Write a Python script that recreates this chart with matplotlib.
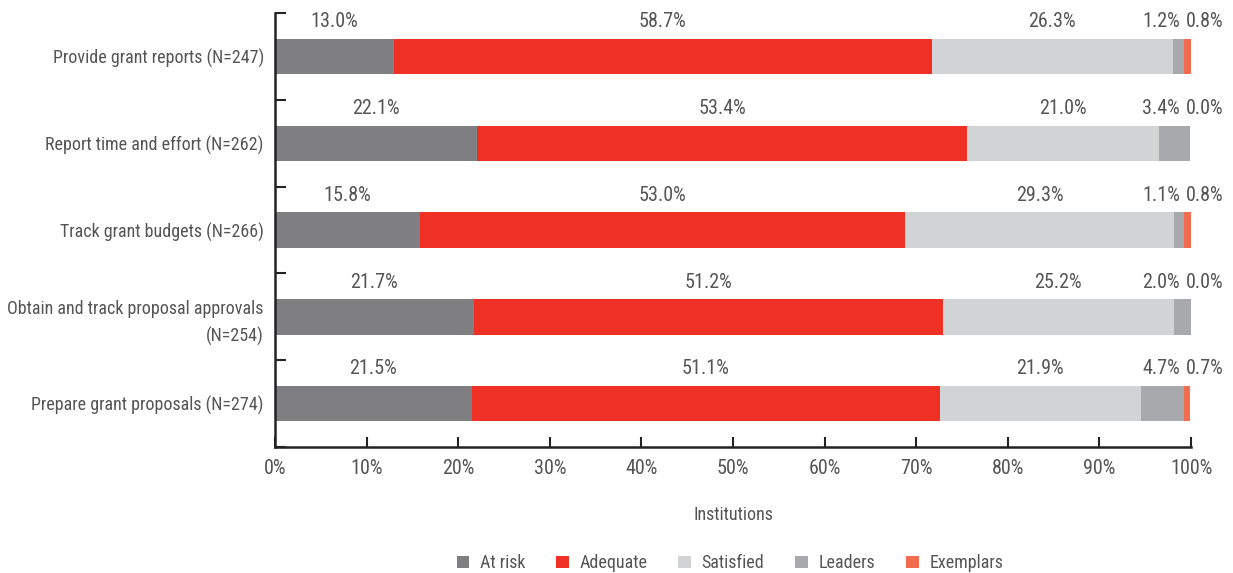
import matplotlib
import numpy as np

matplotlib.use('Agg')
import matplotlib.pyplot as plt
from matplotlib import font_manager

# данные
tasks = ['Provide grant reports (N=247)',
         'Report time and effort (N=262)',
         'Track grant budgets (N=266)',
         'Obtain and track proposal approvals\n(N=254)',
         'Prepare grant proposals (N=274)']
levels = ['At risk', 'Adequate', 'Satisfied', 'Leaders', 'Exemplars']
at_risk = [13.0, 22.1, 15.8, 21.7, 21.5]
adequate = [58.7, 53.4, 53.0, 51.2, 51.1]
satisfied = [26.3, 21.0, 29.3, 25.2, 21.9]
leaders = [1.2, 3.4, 1.1, 2.0, 4.7]
exemplars = [0.8, 0.0, 0.8, 0.0, 0.7]

colors = ['#7f7f82', '#ee3124', '#d1d3d4', '#a7a9ac', '#f26c4f']
text_color = '#555555'

# узкий шрифт, если есть
names = {f.name for f in font_manager.fontManager.ttflist}
family = 'DejaVu Sans'
for cand in ['Roboto Condensed', 'Archivo Narrow', 'PT Sans Narrow', 'Liberation Sans Narrow',
             'Open Sans Condensed', 'Pragati Narrow', 'Fira Sans Condensed', 'IBM Plex Sans Condensed']:
    if cand in names:
        family = cand
        break
plt.rcParams['font.family'] = [family, 'DejaVu Sans']
plt.rcParams['font.size'] = 13

fig = plt.figure(figsize=(12.33, 5.73), dpi=100)
ax = fig.add_axes([0.223, 0.22, 0.743, 0.757])

y = np.arange(len(tasks))
series = [at_risk, adequate, satisfied, leaders, exemplars]
left = np.zeros(len(tasks))
h = 0.41
for vals, lab, c in zip(series, levels, colors):
    ax.barh(y, vals, left=left, height=h, color=c, label=lab)
    left = left + np.array(vals)

# подписи над сегментами
num_size = 14.5
ly = y - 0.40
starts = np.zeros(len(tasks))
for k, vals in enumerate(series[:3]):
    for i, v in enumerate(vals):
        ax.text(starts[i] + v / 2, ly[i], f'{v:.1f}%', ha='center', va='center',
                color=text_color, fontsize=num_size)
    starts = starts + np.array(vals)
for i in range(len(tasks)):
    ax.text(98.8, ly[i], f'{leaders[i]:.1f}%', ha='right', va='center', color=text_color, fontsize=num_size)
    ax.text(99.4, ly[i], f'{exemplars[i]:.1f}%', ha='left', va='center', color=text_color, fontsize=num_size)

ax.set_xlim(0, 100)
ax.set_ylim(len(tasks) - 0.5, -0.5)
ax.set_xticks(np.arange(0, 101, 10))
ax.set_xticklabels([f'{t}%' for t in range(0, 101, 10)], fontsize=num_size)
ax.set_yticks(np.arange(-0.5, len(tasks), 1))
ax.set_yticklabels([])
ax.set_yticks(y, minor=True)
ax.set_yticklabels(tasks, minor=True, ha='right', color=text_color, fontsize=13, linespacing=1.6)
ax.tick_params(axis='y', which='minor', length=0, pad=8)
ax.tick_params(axis='y', which='major', direction='in', length=8, width=1.5, color='#222222')
ax.tick_params(axis='x', direction='in', length=7, width=1.5, pad=9, color='#222222',
               labelcolor=text_color)
for s in ['top', 'right']:
    ax.spines[s].set_visible(False)
for s in ['left', 'bottom']:
    ax.spines[s].set_linewidth(1.8)
    ax.spines[s].set_color('#222222')

ax.set_xlabel('Institutions', color=text_color, labelpad=20)

fig.legend(loc='center', bbox_to_anchor=(0.592, 0.017), ncol=5, frameon=False,
           handlelength=0.7, handleheight=0.7, handletextpad=0.6, columnspacing=1.7,
           labelcolor=text_color, fontsize=13)

plt.savefig('out.png', dpi=100)
